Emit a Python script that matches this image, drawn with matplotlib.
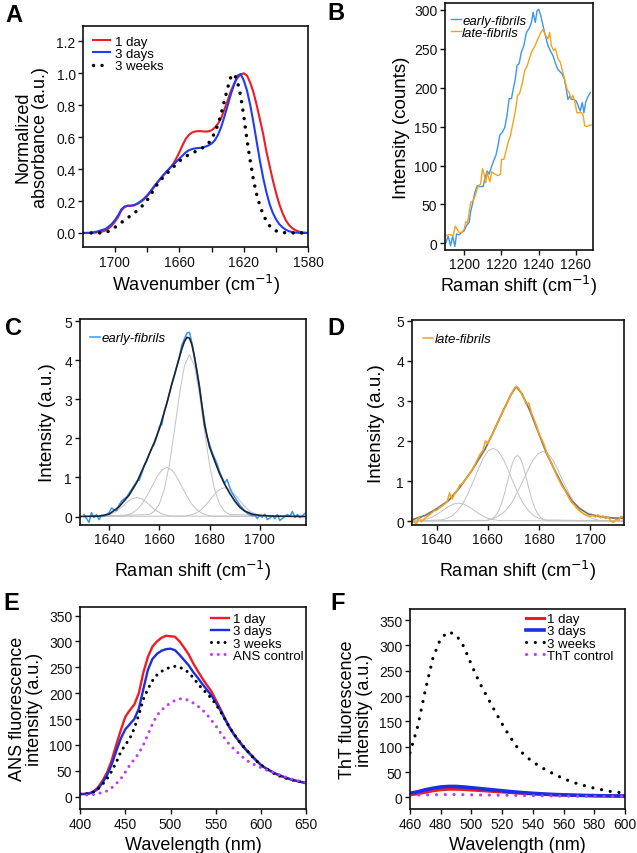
import numpy as np
import matplotlib.pyplot as plt
from matplotlib.ticker import FormatStrFormatter

W, H = 637, 854
plt.rcParams['font.family'] = ['Liberation Sans', 'DejaVu Sans']

# ---------- A: FTIR amide I ----------
wn_a = np.arange(1720, 1579, -2)
a_1day = [0, 0, 0, 0, 0.002, 0.005, 0.008, 0.015, 0.028, 0.045,
          0.07, 0.10, 0.14, 0.163, 0.170, 0.170, 0.173, 0.182, 0.195, 0.21,
          0.23, 0.255, 0.283, 0.31, 0.335, 0.36, 0.382, 0.405, 0.43, 0.465,
          0.505, 0.55, 0.59, 0.615, 0.63, 0.636, 0.638, 0.637, 0.635, 0.636,
          0.643, 0.66, 0.685, 0.72, 0.775, 0.83, 0.89, 0.935, 0.97, 0.993,
          1.0, 0.985, 0.94, 0.88, 0.80, 0.71, 0.62, 0.51, 0.42, 0.33,
          0.25, 0.18, 0.125, 0.08, 0.05, 0.03, 0.017, 0.009, 0.004, 0.001,
          0]
a_3days = [0, 0, 0.001, 0.003, 0.007, 0.012, 0.018, 0.025, 0.038, 0.056,
           0.08, 0.11, 0.148, 0.165, 0.170, 0.171, 0.175, 0.185, 0.198, 0.215,
           0.235, 0.26, 0.288, 0.313, 0.338, 0.362, 0.385, 0.405, 0.425, 0.445,
           0.465, 0.485, 0.505, 0.518, 0.526, 0.530, 0.532, 0.534, 0.540, 0.548,
           0.56, 0.58, 0.615, 0.665, 0.73, 0.80, 0.87, 0.93, 0.985, 0.995,
           0.955, 0.89, 0.80, 0.69, 0.57, 0.45, 0.345, 0.255, 0.18, 0.125,
           0.085, 0.055, 0.035, 0.02, 0.011, 0.005, 0.002, 0.001, 0, 0,
           0]
a_3weeks = [0, 0, 0, 0, 0, 0, 0, 0.003, 0.01, 0.02,
            0.035, 0.05, 0.065, 0.08, 0.095, 0.11, 0.125, 0.14, 0.16, 0.18,
            0.205, 0.235, 0.27, 0.30, 0.325, 0.35, 0.37, 0.39, 0.41, 0.43,
            0.45, 0.465, 0.48, 0.49, 0.50, 0.51, 0.52, 0.53, 0.545, 0.56,
            0.59, 0.63, 0.68, 0.75, 0.83, 0.91, 0.98, 0.995, 0.95, 0.86,
            0.73, 0.58, 0.45, 0.33, 0.24, 0.17, 0.115, 0.075, 0.045, 0.025,
            0.013, 0.006, 0.003, 0.001, 0, 0, 0, 0, 0, 0,
            0]

# ---------- B: Raman amide III ----------
b_early_x = [1190.2, 1191.4, 1192.7, 1193.8, 1195.0, 1195.9, 1197.3, 1198.6, 1200.0, 1201.3,
             1202.7, 1203.4, 1204.5, 1205.7, 1207.0, 1208.4, 1210.2, 1211.1, 1212.3, 1213.4,
             1214.6, 1215.5, 1217.0, 1218.2, 1219.1, 1220.5, 1221.8, 1223.0, 1224.1, 1225.4,
             1226.3, 1227.3, 1228.4, 1229.5, 1230.7, 1232.0, 1233.4, 1234.8, 1236.1, 1237.0,
             1238.2, 1239.1, 1240.0, 1241.1, 1242.3, 1243.6, 1245.0, 1246.2, 1247.7, 1248.9,
             1250.2, 1251.3, 1252.5, 1253.8, 1254.8, 1255.7, 1256.6, 1257.5, 1258.8, 1260.2,
             1261.3, 1262.3, 1263.4, 1264.3, 1265.2, 1266.3, 1267.7]
b_early_y = [1, 9, -3, 9, -4, 12, 11, 14, 16, 23,
             27, 40, 51, 65, 74, 73, 73, 83, 93, 89,
             98, 104, 113, 126, 139, 143, 149, 164, 186, 186,
             198, 209, 229, 231, 246, 254, 271, 276, 284, 297,
             284, 299, 301, 293, 280, 267, 254, 248, 241, 232,
             224, 221, 218, 211, 198, 185, 189, 185, 185, 183,
             176, 170, 181, 168, 181, 188, 194]
b_late_x = [1190.2, 1191.4, 1192.7, 1194.1, 1195.2, 1196.3, 1197.3, 1198.6, 1200.0, 1200.9,
            1201.8, 1202.7, 1203.6, 1204.8, 1206.3, 1207.5, 1208.8, 1209.8, 1210.7, 1211.6,
            1212.3, 1213.8, 1214.8, 1216.4, 1218.2, 1219.5, 1220.0, 1221.3, 1222.3, 1223.6,
            1224.8, 1226.3, 1227.7, 1228.6, 1229.8, 1231.3, 1232.5, 1233.8, 1235.2, 1236.6,
            1238.0, 1239.6, 1241.1, 1242.3, 1243.8, 1245.0, 1245.9, 1246.8, 1248.0, 1249.1,
            1250.4, 1251.6, 1252.7, 1253.9, 1255.2, 1256.3, 1257.5, 1258.4, 1259.5, 1260.5,
            1261.6, 1262.9, 1263.8, 1264.7, 1265.9, 1267.3, 1268.2]
b_late_y = [10, 11, 11, 10, 22, 18, 14, 14, 18, 28,
            26, 40, 53, 54, 64, 74, 76, 96, 89, 78,
            91, 79, 92, 89, 87, 89, 108, 108, 117, 130,
            138, 156, 173, 190, 193, 207, 222, 228, 239, 248,
            254, 263, 271, 275, 267, 263, 271, 254, 248, 250,
            237, 233, 222, 211, 198, 194, 186, 190, 181, 168,
            168, 168, 166, 151, 150, 152, 152]

# ---------- C: early fibrils amide I fit ----------
c_x = np.arange(1630, 1719)
c_data = [0.05, -0.05, -0.15, 0.1, -0.03, 0.05, -0.08, 0.03, 0.0, 0.05,
          0.1, 0.22, 0.17, 0.15, 0.3, 0.4, 0.45, 0.5, 0.6, 0.7,
          0.8, 0.9, 0.93, 1.1, 1.3, 1.42, 1.6, 1.75, 1.85, 2.05,
          2.3, 2.35, 2.7, 2.9, 3.15, 3.4, 3.6, 3.85, 4.1, 4.4,
          4.55, 4.7, 4.72, 4.45, 4.05, 3.75, 3.35, 2.85, 2.45, 2.05,
          1.85, 1.65, 1.5, 1.35, 1.15, 1.0, 0.85, 0.95, 0.75, 0.6,
          0.5, 0.4, 0.3, 0.22, 0.15, 0.08, 0.05, 0.02, 0.04, -0.05,
          0.03, -0.02, 0.06, -0.08, -0.04, 0.02, -0.06, 0.05, -0.1, -0.05,
          0.0, 0.05, 0.0, 0.13, -0.02, 0.05, -0.03, 0.02, 0.08]
c_fit_x = [1628, 1636, 1640, 1644, 1648, 1651, 1655, 1658, 1660, 1663, 1665, 1667, 1669,
           1670, 1671, 1672, 1673, 1674, 1676, 1678, 1680, 1682, 1684, 1686, 1688, 1690,
           1692, 1694, 1697, 1700, 1705, 1718]
c_fit_y = [0.0, 0.01, 0.06, 0.25, 0.55, 0.87, 1.45, 1.9, 2.24, 2.9, 3.4, 3.85, 4.3,
           4.48, 4.59, 4.57, 4.4, 4.1, 3.3, 2.35, 1.78, 1.43, 1.1, 0.83, 0.6, 0.4,
           0.24, 0.14, 0.06, 0.03, 0.01, 0.0]
c_peaks = [
    (np.arange(1637, 1666, 2), [0.01, 0.03, 0.07, 0.14, 0.24, 0.36, 0.45, 0.49, 0.45, 0.36,
                                0.24, 0.14, 0.07, 0.03, 0.01]),
    (np.arange(1645, 1682, 2), [0.01, 0.035, 0.08, 0.17, 0.31, 0.52, 0.76, 1.01, 1.19, 1.26,
                                1.19, 1.01, 0.76, 0.52, 0.31, 0.17, 0.08, 0.035, 0.01]),
    (np.arange(1656, 1689, 2), [0.05, 0.13, 0.32, 0.70, 1.33, 2.19, 3.12, 3.86, 4.15, 3.86,
                                3.12, 2.19, 1.33, 0.70, 0.32, 0.13, 0.05]),
    (np.arange(1670, 1703, 2), [0.01, 0.03, 0.07, 0.14, 0.26, 0.41, 0.57, 0.69, 0.74, 0.69,
                                0.57, 0.41, 0.26, 0.14, 0.07, 0.03, 0.01]),
]

# ---------- D: late fibrils amide I fit ----------
d_x = np.arange(1630, 1714)
d_data = [-0.05, 0.0, -0.08, 0.1, -0.02, 0.05, 0.1, 0.15, 0.2, 0.26,
          0.27, 0.33, 0.37, 0.42, 0.48, 0.7, 0.55, 0.68, 0.77, 0.9,
          0.94, 1.02, 1.1, 1.2, 1.3, 1.42, 1.55, 1.68, 1.75, 2.0,
          1.95, 2.08, 2.2, 2.35, 2.5, 2.62, 2.76, 2.88, 3.02, 3.15,
          3.28, 3.36, 3.32, 3.2, 3.08, 2.92, 2.95, 2.7, 2.55, 2.38,
          2.17, 2.05, 1.9, 1.7, 1.55, 1.42, 1.28, 1.12, 1.0, 0.87,
          0.78, 0.66, 0.54, 0.45, 0.38, 0.3, 0.25, 0.2, 0.16, 0.14,
          0.12, 0.14, 0.1, 0.16, 0.08, 0.13, 0.06, 0.1, 0.0, -0.03,
          0.05, 0.02, 0.12, 0.1]
d_fit_x = [1630.2, 1635.4, 1640, 1644.6, 1648.5, 1653.7, 1658.9, 1662.1, 1665.4, 1668.7,
           1671, 1673.2, 1676.4, 1679.7, 1683, 1686.2, 1689.5, 1692.7, 1696, 1699.2,
           1703.1, 1708.3, 1713.2]
d_fit_y = [0.03, 0.14, 0.31, 0.51, 0.80, 1.26, 1.8, 2.22, 2.68, 3.12,
           3.36, 3.19, 2.76, 2.22, 1.68, 1.26, 0.85, 0.51, 0.31, 0.18,
           0.12, 0.08, 0.07]
d_peaks = [
    (np.arange(1632.5, 1665, 2), [0.013, 0.03, 0.061, 0.112, 0.185, 0.273, 0.36, 0.426, 0.45,
                                  0.426, 0.36, 0.273, 0.185, 0.112, 0.061, 0.03, 0.013]),
    (np.arange(1642, 1683, 2), [0.03, 0.07, 0.13, 0.25, 0.42, 0.66, 0.95, 1.26, 1.55, 1.75, 1.82,
                                1.75, 1.55, 1.26, 0.95, 0.66, 0.42, 0.25, 0.13, 0.07, 0.03]),
    (np.arange(1659.5, 1684, 1), [0.01, 0.025, 0.05, 0.1, 0.18, 0.3, 0.47, 0.69, 0.94, 1.2, 1.43,
                                  1.58, 1.64, 1.58, 1.43, 1.2, 0.94, 0.69, 0.47, 0.3, 0.18, 0.1,
                                  0.05, 0.025, 0.01]),
    (np.arange(1659.5, 1704, 2), [0.02, 0.05, 0.1, 0.18, 0.3, 0.48, 0.72, 0.98, 1.26, 1.51, 1.68,
                                  1.74, 1.68, 1.51, 1.26, 0.98, 0.72, 0.48, 0.3, 0.18, 0.1, 0.05,
                                  0.02]),
]

# ---------- E: ANS fluorescence ----------
wl_e = np.arange(400, 651, 5)
e_1day = [5, 5, 6, 10, 18, 31, 47, 70, 100, 128,
          154, 167, 178, 200, 240, 270, 290, 300, 307, 311,
          310, 309, 300, 288, 275, 258, 243, 229, 216, 204,
          187, 170, 152, 135, 121, 109, 98, 88, 79, 70,
          61, 55, 50, 45, 42, 38, 35, 32, 30, 28,
          26]
e_3days = [5, 5, 6, 9, 15, 27, 42, 62, 88, 112,
           130, 140, 150, 170, 208, 245, 266, 276, 282, 285,
           286, 283, 274, 264, 254, 241, 230, 218, 207, 196,
           182, 167, 150, 134, 120, 108, 97, 87, 78, 69,
           61, 55, 50, 45, 41, 38, 35, 32, 30, 28,
           26]
e_3weeks = [5, 5, 6, 9, 15, 24, 35, 49, 66, 86,
            100, 112, 132, 158, 188, 208, 224, 235, 242, 247,
            250, 252, 250, 246, 240, 230, 219, 208, 200, 190,
            179, 165, 150, 134, 121, 109, 98, 88, 78, 69,
            61, 55, 49, 44, 40, 37, 34, 32, 30, 28,
            26]
e_ans = [3, 3, 3, 4, 6, 8, 11, 17, 25, 34,
         47, 61, 72, 84, 100, 120, 140, 157, 167, 175,
         181, 186, 189, 189, 186, 181, 175, 168, 159, 148,
         137, 124, 112, 101, 92, 84, 76, 69, 64, 60,
         56, 52, 49, 46, 42, 39, 36, 33, 31, 29,
         27]

# ---------- F: ThT fluorescence ----------
wl_f = np.arange(460, 601, 5)
f_1day = [5, 7, 10, 13, 15, 16, 16, 15.5, 14.5, 13.5, 12.5, 11.5, 10.5, 9.5, 8.5,
          7.5, 6.8, 6, 5.4, 4.9, 4.5, 4.1, 3.8, 3.5, 3.2, 3, 2.8, 2.6, 2.5]
f_3days = [8, 11, 15, 18, 20.5, 21.5, 21.5, 20.5, 19, 17.5, 16, 14.5, 13, 11.5, 10.2,
           9, 8, 7, 6.2, 5.5, 5, 4.5, 4, 3.7, 3.4, 3.1, 2.9, 2.7, 2.5]
f_3weeks = [88, 140, 212, 276, 314, 327, 321, 298, 262, 228, 200, 172, 145, 120, 98,
            82, 70, 60, 52, 44, 37, 31, 26, 22, 18, 15, 12, 10, 9]
f_tht = [4, 4.5, 5, 5, 5.5, 5.5, 5.5, 5.2, 5, 4.8, 4.6, 4.4, 4.2, 4, 3.8,
         3.5, 3.3, 3.1, 2.9, 2.7, 2.5, 2.3, 2.2, 2, 1.9, 1.8, 1.7, 1.6, 1.5]

RED = '#ee1c25'
BLUE = '#1f3df5'
EBLUE = '#1a2fe0'
SKY = '#3a96f0'
ORANGE = '#f7a21b'
MAG = '#bf3af5'
GREY = '#c2c2c2'

TICK = 10
LAB = 13


def box(l, t, r, b):
    return [l / W, 1 - b / H, (r - l) / W, (b - t) / H]


def style(ax):
    for s in ax.spines.values():
        s.set_linewidth(1.2)
        s.set_color('#111111')
    ax.tick_params(direction='out', length=3.5, width=1, labelsize=TICK,
                   colors='#111111', pad=2)


def dotted(gap):
    return dict(ls=(0, (0.01, gap)), dash_capstyle='round')


def leg(ax, x, y, **kw):
    opts = dict(loc='upper left', bbox_to_anchor=(x / W, 1 - y / H),
                bbox_transform=fig.transFigure, frameon=False, borderpad=0,
                borderaxespad=0, labelspacing=0.0, fontsize=9.5)
    opts.update(kw)
    return ax.legend(**opts)


fig = plt.figure(figsize=(W / 100, H / 100), dpi=100)

# A
ax = fig.add_axes(box(83.3, 26.7, 308.3, 248))
ax.plot(wn_a, a_1day, color=RED, lw=1.5, label='1 day')
ax.plot(wn_a, a_3days, color=BLUE, lw=1.5, label='3 days')
ax.plot(wn_a, a_3weeks, color='black', lw=2.5, label='3 weeks', **dotted(2.45))
ax.set_xlim(1719.6, 1580)
ax.set_ylim(-0.088, 1.298)
ax.set_xticks([1700, 1660, 1620, 1580])
ax.set_xticks([1680, 1640, 1600], minor=True)
ax.set_yticks(np.arange(0, 1.21, 0.2))
ax.yaxis.set_major_formatter(FormatStrFormatter('%.1f'))
style(ax)
ax.tick_params(which='minor', direction='out', length=3.5, width=1, colors='#111111')
ax.set_xlabel('Wavenumber (cm$^{-1}$)', fontsize=LAB, labelpad=2)
ax.set_ylabel('Normalized\nabsorbance (a.u.)', fontsize=LAB, labelpad=5, linespacing=1.05)
leg(ax, 92.7, 36.5, handlelength=1.3, handletextpad=0.38)

# B
ax = fig.add_axes(box(445, 4, 592.7, 250.7))
ax.plot(b_early_x, b_early_y, color=SKY, lw=1.0, label='early-fibrils')
ax.plot(b_late_x, b_late_y, color=ORANGE, lw=1.0, label='late-fibrils')
ax.set_xlim(1189.7, 1269)
ax.set_ylim(-8.2, 309)
ax.set_xticks([1200, 1220, 1240, 1260])
ax.set_yticks(np.arange(0, 301, 50))
style(ax)
ax.set_xlabel('Raman shift (cm$^{-1}$)', fontsize=LAB, labelpad=1)
ax.set_ylabel('Intensity (counts)', fontsize=13.5, labelpad=3)
leg(ax, 450.7, 15.5, handlelength=0.75, handletextpad=0.12,
    prop={'style': 'italic', 'size': 9.5})

# C
ax = fig.add_axes(box(79.7, 320, 305.7, 525.7))
for px, py in c_peaks:
    ax.plot(np.r_[1628, px, 1718.3], np.r_[0, py, 0], color=GREY, lw=0.7)
ax.plot(c_x, c_data, color=SKY, lw=1.1, label='early-fibrils')
ax.plot(c_fit_x, c_fit_y, color='#1b2433', lw=1.2)
ax.set_xlim(1628.3, 1718.3)
ax.set_ylim(-0.21, 5.06)
ax.set_xticks([1640, 1660, 1680, 1700])
ax.set_yticks(range(0, 6))
style(ax)
ax.set_xlabel('Raman shift (cm$^{-1}$)', fontsize=LAB, labelpad=8)
ax.set_ylabel('Intensity (a.u.)', fontsize=13.5, labelpad=6)
leg(ax, 90, 333, handlelength=0.75, handletextpad=0.12,
    prop={'style': 'italic', 'size': 9.5})

# D
ax = fig.add_axes(box(411.7, 321, 624, 525.7))
for px, py in d_peaks:
    ax.plot(np.r_[1630.2, px, 1713.2], np.r_[0, py, 0], color=GREY, lw=0.7)
ax.plot(d_fit_x, d_fit_y, color='#777777', lw=1.3)
ax.plot(d_x, d_data, color=ORANGE, lw=1.1, label='late-fibrils')
ax.set_xlim(1630.2, 1713.2)
ax.set_ylim(-0.09, 5.02)
ax.set_xticks([1640, 1660, 1680, 1700])
ax.set_yticks(range(0, 6))
style(ax)
ax.set_xlabel('Raman shift (cm$^{-1}$)', fontsize=LAB, labelpad=8)
ax.set_ylabel('Intensity (a.u.)', fontsize=13.5, labelpad=8)
leg(ax, 423, 334, handlelength=0.75, handletextpad=0.12,
    prop={'style': 'italic', 'size': 9.5})

# E
ax = fig.add_axes(box(80, 608.3, 306.3, 810))
ax.plot(wl_e, e_1day, color=RED, lw=1.7, label='1 day')
ax.plot(wl_e, e_3days, color=EBLUE, lw=1.7, label='3 days')
ax.plot(wl_e, e_3weeks, color='black', lw=2.2, label='3 weeks', **dotted(2.2))
ax.plot(wl_e, e_ans, color=MAG, lw=2.2, label='ANS control', **dotted(2.2))
ax.set_xlim(400, 650)
ax.set_ylim(-24, 366)
ax.set_xticks(range(400, 651, 50))
ax.set_yticks(range(0, 351, 50))
style(ax)
ax.set_xlabel('Wavelength (nm)', fontsize=LAB, labelpad=4)
ax.set_ylabel('ANS fluorescence\nintensity (a.u.)', fontsize=LAB, labelpad=4, linespacing=1.0)
leg(ax, 211, 614, handlelength=1.35, handletextpad=0.28)

# F
ax = fig.add_axes(box(410, 610, 625, 810))
ax.plot(wl_f, f_1day, color=RED, lw=2.2, label='1 day')
ax.plot(wl_f, f_3days, color=EBLUE, lw=2.6, label='3 days')
ax.plot(wl_f, f_3weeks, color='black', lw=2.3, label='3 weeks', **dotted(2.75))
ax.plot(wl_f, f_tht, color=MAG, lw=2.3, label='ThT control', **dotted(2.75))
ax.set_xlim(460, 600)
ax.set_ylim(-23, 372)
ax.set_xticks(range(460, 601, 20))
ax.set_yticks(range(0, 351, 50))
style(ax)
ax.set_xlabel('Wavelength (nm)', fontsize=LAB, labelpad=4)
ax.set_ylabel('ThT fluorescence\nintensity (a.u.)', fontsize=LAB, labelpad=4, linespacing=1.0)
leg(ax, 525.7, 614, handlelength=1.35, handletextpad=0.28)

# panel letters
for letter, x, y in [('A', 5, 7), ('B', 327, 5), ('C', 5, 320),
                     ('D', 327, 320), ('E', 3, 595), ('F', 330, 595)]:
    fig.text(x / W, 1 - (y - 3) / H, letter, fontsize=17, fontweight='bold',
             va='top', ha='left')

fig.savefig('out.png', dpi=100)
